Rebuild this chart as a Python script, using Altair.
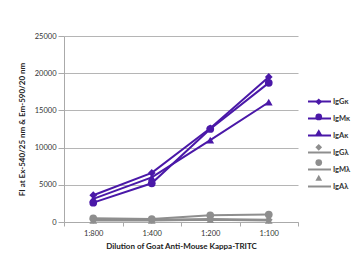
import altair as alt
import pandas as pd

dilutions = ["1:800", "1:400", "1:200", "1:100"]
series = ["IgGκ", "IgMκ", "IgAκ", "IgGλ", "IgMλ", "IgAλ"]
igg_k = [3600, 6600, 12600, 19500]
igm_k = [2600, 5200, 12500, 18700]
iga_k = [3100, 6000, 11000, 16100]
igg_l = [300, 300, 400, 300]
igm_l = [500, 400, 900, 1000]
iga_l = [200, 200, 300, 200]

values = [igg_k, igm_k, iga_k, igg_l, igm_l, iga_l]
purple = "#4a18a8"
grey = "#8e8e8e"
colors = [purple, purple, purple, grey, grey, grey]
shapes = ["diamond", "circle", "triangle-up", "diamond", "circle", "triangle-up"]
marker_keys = [s + "\u200b" for s in series]

rows = []
for s, k, vals in zip(series, marker_keys, values):
    for d, v in zip(dilutions, vals):
        rows.append({"series": s, "marker": k, "dilution": d, "value": v})
df = pd.DataFrame(rows)

font = "Lato"

x = alt.X("dilution:N", sort=dilutions, bandPosition=0.5,
          scale=alt.Scale(type="band", domain=dilutions, paddingInner=0, paddingOuter=0),
          axis=alt.Axis(title="Dilution of Goat Anti-Mouse Kappa-TRITC", labelAngle=0,
                        tickBand="extent", grid=False, tickSize=4, labelPadding=3,
                        titlePadding=6))
y = alt.Y("value:Q", scale=alt.Scale(domain=[0, 25000]),
          axis=alt.Axis(title="FI at Ex-540/25 nm & Em-590/20 nm", values=[0, 5000, 10000, 15000, 20000, 25000],
                        format="d", tickSize=6, labelPadding=2, titlePadding=8))

leg_lines = alt.Legend(title=None, orient="none", legendX=243, legendY=53,
                       symbolType="stroke", symbolSize=529, symbolStrokeWidth=2,
                       labelOffset=1, rowPadding=-14, labelFontSize=7.5, labelFontWeight="bold",
                       labelFont=font, labelColor="#333", zindex=0)

leg_marks = alt.Legend(title=None, orient="none", legendX=251, legendY=62,
                       symbolType="circle", symbolSize=45, symbolStrokeWidth=0,
                       labelOffset=1, rowPadding=6.2, labelFontSize=7.5, labelFontWeight="bold",
                       labelFont=font, labelExpr="''", zindex=1)

lines = alt.Chart(df).mark_line(strokeWidth=2).encode(
    x=x, y=y,
    color=alt.Color("series:N", scale=alt.Scale(domain=series, range=colors), legend=leg_lines),
    detail="series:N",
)

points = alt.Chart(df).mark_point(filled=True, size=60, opacity=1, strokeWidth=0).encode(
    x=x, y=y,
    fill=alt.Fill("marker:N", scale=alt.Scale(domain=marker_keys, range=colors), legend=leg_marks),
    shape=alt.Shape("marker:N", scale=alt.Scale(domain=marker_keys, range=shapes), legend=leg_marks),
)

chart = alt.layer(lines, points).properties(
    width=234, height=186,
    autosize=alt.AutoSizeParams(type="none"),
    padding={"left": 56, "top": 28, "right": 55, "bottom": 47},
).configure_view(stroke=None).configure_axis(
    labelFont=font, titleFont=font, labelFontSize=7.5, titleFontSize=8,
    titleFontWeight="bold", labelColor="#333", titleColor="#222",
    domainColor="#aaa", tickColor="#aaa", gridColor="#b5b5b5", domainWidth=1,
)

chart.save("out.html", embed_options={"renderer": "svg", "actions": False})
